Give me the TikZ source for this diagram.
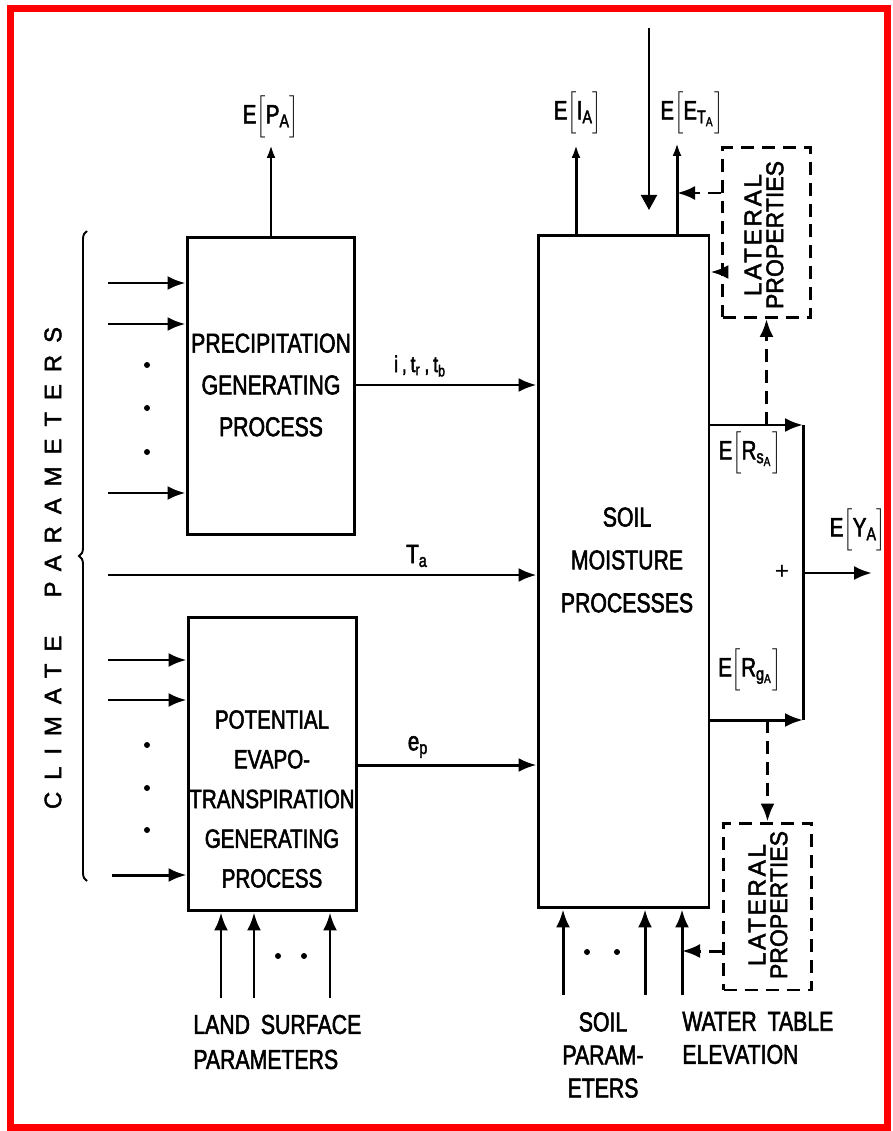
\documentclass[tikz,border=0pt]{standalone}
\usepackage{fontspec}
\setmainfont{Liberation Sans}
\newfontfamily\lett[FakeStretch=0.78,FakeBold=2]{Liberation Sans}
\newfontfamily\widefont[LetterSpace=50,FakeBold=2]{Liberation Sans}
\newfontfamily\latA[LetterSpace=11,FakeBold=2]{Liberation Sans}
\newfontfamily\latB[FakeStretch=0.95,FakeBold=2]{Liberation Sans}
\usetikzlibrary{arrows.meta,decorations.pathreplacing}
\newcommand\SB[1]{\textsubscript{#1}}
\newcommand\LB{$\biggl[$}
\newcommand\RB{$\biggr]$}
\begin{document}
\begin{tikzpicture}[x=0.02cm,y=-0.02cm,
  ln/.style={line width=1.7pt},
  arr/.style={ln,-{Latex[length=0.36cm,width=0.28cm]}},
  sarr/.style={ln,-{Latex[length=0.26cm,width=0.18cm]}},
  dsh/.style={line width=1.7pt,dash pattern=on 0.26cm off 0.16cm},
  darr/.style={dsh,-{Latex[length=0.36cm,width=0.28cm]}},
  blk/.style={draw,line width=1.7pt,inner sep=0},
  lat/.style={draw,line width=1.7pt,dash pattern=on 0.26cm off 0.16cm,inner sep=0,minimum width=1.76cm,minimum height=3.4cm},
  txt/.style={font=\lett\fontsize{15.5}{24}\selectfont,align=center,inner sep=0},
  lbl/.style={font=\lett\fontsize{15}{18}\selectfont,inner sep=0},
  dot/.style={circle,fill,inner sep=0,minimum size=0.12cm},
]
\useasboundingbox (0,0) rectangle (892,1131);
\draw[red,line width=0.14cm] (10.5,9) rectangle (887,1127);

% boxes
\node[blk,minimum width=3.36cm,minimum height=5.96cm] (precip) at (271,386) {};
\node[blk,minimum width=3.38cm,minimum height=5.88cm] (pet) at (272.5,764) {};
\node[blk,minimum width=3.42cm,minimum height=13.46cm] (soil) at (623.5,571.5) {};
\node[lat] (latT) at (766.5,232.5) {};
\node[lat,minimum height=3.34cm] (latB) at (767.5,906.5) {};

% box texts
\node[txt,font=\lett\fontsize{15.5}{23.8}\selectfont] (ptxt) at (271,385) {PRECIPITATION\\GENERATING\\PROCESS};
\node[txt,font=\lett\fontsize{15}{22.6}\selectfont] (etxt) at (272,799) {POTENTIAL\\EVAPO-\\TRANSPIRATION\\GENERATING\\PROCESS};
\node[txt,font=\lett\fontsize{15.5}{24.4}\selectfont] (stxt) at (627,560) {SOIL\\MOISTURE\\PROCESSES};
\node[rotate=90,align=center,inner sep=0,font=\fontsize{13.8}{12.5}\selectfont] (ltxtT) at (764,235) {{\latA LATERAL}\\{\latB PROPERTIES}};
\node[rotate=90,align=center,inner sep=0,font=\fontsize{13.8}{12.5}\selectfont] (ltxtB) at (768,905) {{\latA LATERAL}\\{\latB PROPERTIES}};

% climate parameters
\node[rotate=90,inner sep=0,font=\widefont\fontsize{13.6}{16}\selectfont] (clim) at (53,568) {CLIMATE\hspace{1.6em}PARAMETERS};
\draw[decorate,decoration={brace,amplitude=0.16cm},line width=1.1pt] (87,881) -- (87,231);

% left inputs
\coordinate (in1) at (108,283);
\coordinate (in2) at (108,324);
\coordinate (in3) at (108,493);
\coordinate (in4) at (108,660);
\coordinate (in5) at (108,700);
\coordinate (in6) at (112,875);
\foreach \c in {in1,in2,in3} \draw[arr] (\c) -- (\c -| precip.west);
\foreach \c in {in4,in5,in6} \draw[arr] (\c) -- (\c -| pet.west);
\node[dot] (d1) at (147,365) {};
\node[dot] (d2) at (147,408) {};
\node[dot] (d3) at (147,452) {};
\node[dot] (d4) at (147,745) {};
\node[dot] (d5) at (147,788) {};
\node[dot] (d6) at (147,830) {};

% Ta line
\coordinate (ta) at (108,575);
\draw[arr] (ta) -- (ta -| soil.west);
\node[lbl] (talbl) at (417,556) {T\SB{a}};

% precip -> soil
\coordinate (yI) at (0,385);
\draw[arr] (precip.east |- yI) -- (soil.west |- yI);
\node[lbl,font=\lett\fontsize{13}{15}\selectfont] (itlbl) at (420,366) {i\,,\,t\SB{r}\,,\,t\SB{b}};

% pet -> soil
\coordinate (yE) at (0,765);
\draw[arr] (pet.east |- yE) -- (soil.west |- yE);
\node[lbl] (eplbl) at (418,747) {e\SB{p}};

% outputs at top
\coordinate (pa) at (271,145);
\draw[sarr] (precip.north -| pa) -- (pa);
\node[lbl] (palbl) at (271,117) {E\LB P\SB{A}\RB};
\coordinate (ia) at (576,145);
\draw[sarr] (soil.north -| ia) -- (ia);
\node[lbl] (ialbl) at (578,113) {E\LB I\SB{A}\RB};
\coordinate (eta) at (677,143);
\draw[sarr] (soil.north -| eta) -- (eta);
\node[lbl] (etalbl) at (692,113) {E\LB E\SB{T\SB{A}}\RB};

% incoming arrow from top
\coordinate (dnA) at (649,28);
\coordinate (dnB) at (649,210);
\draw[line width=1.1pt,-{Triangle[length=0.3cm,width=0.32cm]}] (dnA) -- (dnB);

% lateral top connections
\coordinate (yL1) at (0,193);
\draw[darr] (latT.west |- yL1) -- (eta |- yL1);
\coordinate (yL2) at (0,272);
\draw[arr] (latT.west |- yL2) -- (soil.east |- yL2);

% summation
\coordinate (sTop) at (803,425);
\coordinate (sBot) at (803,720);
\draw[arr] (soil.east |- sTop) -- (sTop);
\draw[ln] (sTop) -- (sBot);
\draw[arr] (soil.east |- sBot) -- (sBot);
\coordinate (yOut) at (872,573);
\draw[arr] (sTop |- yOut) -- (yOut);
\node[font=\fontsize{14}{16}\selectfont,inner sep=0] (plus) at (782,572) {+};
\node[lbl] (rslbl) at (750,453) {E\LB R\SB{s\SB{A}}\RB};
\node[lbl] (rglbl) at (750,670) {E\LB R\SB{g\SB{A}}\RB};
\node[lbl] (yalbl) at (858,530) {E\LB Y\SB{A}\RB};

\draw[darr] (latT.south |- sTop) -- (latT.south);
\draw[darr] (latB.north |- sBot) -- (latB.north);

% soil bottom inputs
\coordinate (sp1) at (563,995);
\coordinate (sp2) at (645,995);
\coordinate (wt) at (682,995);
\foreach \c in {sp1,sp2,wt} \draw[arr] (\c) -- (\c |- soil.south);
\node[dot] (d7) at (587,952) {};
\node[dot] (d8) at (617,952) {};
\coordinate (yL3) at (0,951);
\draw[darr] (latB.west |- yL3) -- (wt |- yL3);

% land surface inputs
\coordinate (ls1) at (221,998);
\coordinate (ls2) at (254,998);
\coordinate (ls3) at (330,998);
\foreach \c in {ls1,ls2,ls3} \draw[arr] (\c) -- (\c |- pet.south);
\node[dot] (d9) at (278,956) {};
\node[dot] (d10) at (304,956) {};

% bottom labels
\node[txt,align=left,anchor=west,font=\lett\fontsize{15.5}{19.9}\selectfont] (lslbl) at (193,1042) {LAND\hspace{0.4em}SURFACE\\PARAMETERS};
\node[txt,font=\lett\fontsize{15.5}{18.8}\selectfont] (splbl) at (603,1055) {SOIL\\PARAM-\\ETERS};
\node[txt,align=left,anchor=west,font=\lett\fontsize{15.5}{18.8}\selectfont] (wtlbl) at (682,1038) {WATER\hspace{0.4em}TABLE\\ELEVATION};
\end{tikzpicture}
\end{document}
